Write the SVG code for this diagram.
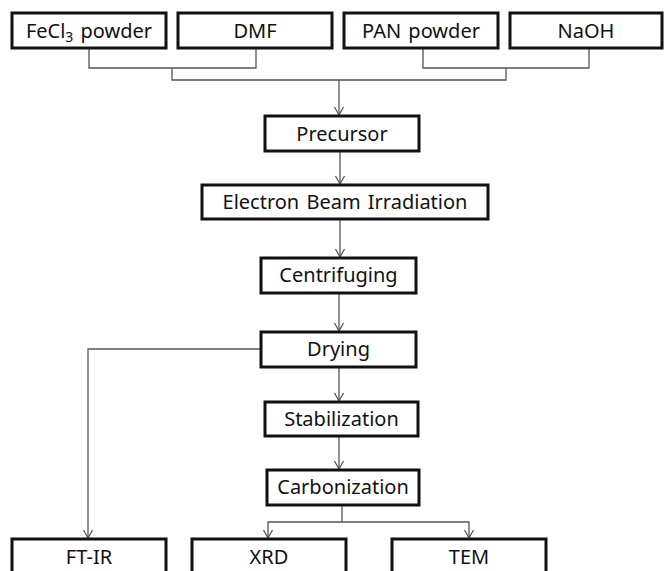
<svg xmlns="http://www.w3.org/2000/svg" width="664" height="571" viewBox="0 0 664 571">
<style>
.box{fill:#fff;stroke:#111;stroke-width:3}
.lbl{font-family:"Noto Sans","DejaVu Sans",sans-serif;font-size:20px;fill:#111;text-anchor:middle;word-spacing:2px}
.con{fill:none;stroke:#555;stroke-width:1.3}
</style>
<defs>
<marker id="arr" markerUnits="userSpaceOnUse" markerWidth="12" markerHeight="12" viewBox="-10 -6 12 12" refX="0" refY="0" orient="auto-start-reverse">
<path d="M-8,-4.5 L0,0 L-8,4.5" fill="none" stroke="#555" stroke-width="1.3"/>
</marker>
</defs>
<rect width="664" height="571" fill="#fff"/>
<g id="connectors">
<path class="con" d="M89,48 V68 H256 V48"/>
<path class="con" d="M423,48 V68 H589 V48"/>
<path class="con" d="M172,68 V80 H506 V68"/>
<path class="con" d="M339,80 V115" marker-end="url(#arr)"/>
<path class="con" d="M340,151 V184" marker-end="url(#arr)"/>
<path class="con" d="M340,219 V257" marker-end="url(#arr)"/>
<path class="con" d="M339,293 V331" marker-end="url(#arr)"/>
<path class="con" d="M339,367 V401" marker-end="url(#arr)"/>
<path class="con" d="M339,436 V469" marker-end="url(#arr)"/>
<path class="con" d="M261,349 H88 V538" marker-end="url(#arr)"/>
<path class="con" d="M342,505 V522"/>
<path class="con" d="M268,538 V522 H469 V538" marker-start="url(#arr)" marker-end="url(#arr)"/>
</g>
<g id="fecl3"><rect class="box" x="12" y="13" width="154" height="35"/><text class="lbl" x="89" y="37.5">FeCl<tspan font-size="14" dy="4">3</tspan><tspan dy="-4"> powder</tspan></text></g>
<g id="dmf"><rect class="box" x="178" y="13" width="154" height="35"/><text class="lbl" x="255" y="37.5">DMF</text></g>
<g id="pan"><rect class="box" x="344" y="13" width="154" height="35"/><text class="lbl" x="421" y="37.5">PAN powder</text></g>
<g id="naoh"><rect class="box" x="510" y="13" width="152" height="35"/><text class="lbl" x="586" y="37.5">NaOH</text></g>
<g id="precursor"><rect class="box" x="265" y="116" width="154" height="35"/><text class="lbl" x="342" y="140.5">Precursor</text></g>
<g id="ebi"><rect class="box" x="202" y="185" width="286" height="34"/><text class="lbl" x="345" y="209">Electron Beam Irradiation</text></g>
<g id="centrifuging"><rect class="box" x="261" y="258" width="155" height="35"/><text class="lbl" x="338.5" y="282">Centrifuging</text></g>
<g id="drying"><rect class="box" x="261" y="332" width="155" height="35"/><text class="lbl" x="338.5" y="356">Drying</text></g>
<g id="stabilization"><rect class="box" x="265" y="402" width="153" height="34"/><text class="lbl" x="341.5" y="425.5">Stabilization</text></g>
<g id="carbonization"><rect class="box" x="267" y="470" width="152" height="35"/><text class="lbl" x="343" y="494">Carbonization</text></g>
<g id="ftir"><rect class="box" x="12" y="539" width="154" height="36"/><text class="lbl" x="89" y="564">FT-IR</text></g>
<g id="xrd"><rect class="box" x="192" y="539" width="154" height="36"/><text class="lbl" x="269" y="564">XRD</text></g>
<g id="tem"><rect class="box" x="392" y="539" width="154" height="36"/><text class="lbl" x="469" y="564">TEM</text></g>
</svg>
